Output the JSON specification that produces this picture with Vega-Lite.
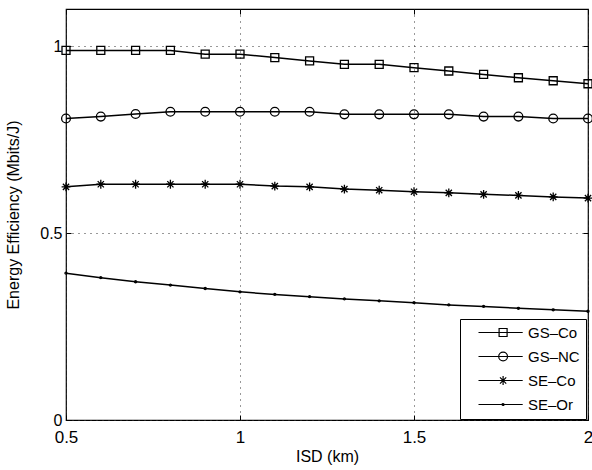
{
  "$schema": "https://vega.github.io/schema/vega-lite/v6.json",
  "width": 522,
  "height": 411,
  "autosize": "none",
  "padding": {"left": 66, "top": 9, "right": 4, "bottom": 50},
  "background": "white",
  "config": {
    "font": "Liberation Sans",
    "view": {"stroke": "black", "strokeWidth": 1.2},
    "axis": {
      "domainColor": "black",
      "tickColor": "black",
      "labelColor": "black",
      "titleColor": "black",
      "labelFontSize": 17,
      "titleFontSize": 16,
      "titleFontWeight": "normal",
      "labelFont": "Liberation Sans",
      "titleFont": "Liberation Sans",
      "gridColor": "#333",
      "gridDash": [1, 5],
      "gridWidth": 1,
      "gridOpacity": 1,
      "tickSize": -5,
      "tickWidth": 1
    },
    "legend": {"labelFont": "Liberation Sans"}
  },
  "data": {
    "values": [
      {"isd": 0.5, "series": "GS–Co", "ee": 0.989},
      {"isd": 0.6, "series": "GS–Co", "ee": 0.989},
      {"isd": 0.7, "series": "GS–Co", "ee": 0.989},
      {"isd": 0.8, "series": "GS–Co", "ee": 0.989},
      {"isd": 0.9, "series": "GS–Co", "ee": 0.979},
      {"isd": 1.0, "series": "GS–Co", "ee": 0.979},
      {"isd": 1.1, "series": "GS–Co", "ee": 0.970},
      {"isd": 1.2, "series": "GS–Co", "ee": 0.961},
      {"isd": 1.3, "series": "GS–Co", "ee": 0.952},
      {"isd": 1.4, "series": "GS–Co", "ee": 0.952},
      {"isd": 1.5, "series": "GS–Co", "ee": 0.943},
      {"isd": 1.6, "series": "GS–Co", "ee": 0.934},
      {"isd": 1.7, "series": "GS–Co", "ee": 0.925},
      {"isd": 1.8, "series": "GS–Co", "ee": 0.916},
      {"isd": 1.9, "series": "GS–Co", "ee": 0.908},
      {"isd": 2.0, "series": "GS–Co", "ee": 0.900},
      {"isd": 0.5, "series": "GS–NC", "ee": 0.807},
      {"isd": 0.6, "series": "GS–NC", "ee": 0.812},
      {"isd": 0.7, "series": "GS–NC", "ee": 0.819},
      {"isd": 0.8, "series": "GS–NC", "ee": 0.825},
      {"isd": 0.9, "series": "GS–NC", "ee": 0.825},
      {"isd": 1.0, "series": "GS–NC", "ee": 0.825},
      {"isd": 1.1, "series": "GS–NC", "ee": 0.825},
      {"isd": 1.2, "series": "GS–NC", "ee": 0.825},
      {"isd": 1.3, "series": "GS–NC", "ee": 0.818},
      {"isd": 1.4, "series": "GS–NC", "ee": 0.818},
      {"isd": 1.5, "series": "GS–NC", "ee": 0.818},
      {"isd": 1.6, "series": "GS–NC", "ee": 0.818},
      {"isd": 1.7, "series": "GS–NC", "ee": 0.812},
      {"isd": 1.8, "series": "GS–NC", "ee": 0.812},
      {"isd": 1.9, "series": "GS–NC", "ee": 0.807},
      {"isd": 2.0, "series": "GS–NC", "ee": 0.807},
      {"isd": 0.5, "series": "SE–Co", "ee": 0.624},
      {"isd": 0.6, "series": "SE–Co", "ee": 0.631},
      {"isd": 0.7, "series": "SE–Co", "ee": 0.631},
      {"isd": 0.8, "series": "SE–Co", "ee": 0.631},
      {"isd": 0.9, "series": "SE–Co", "ee": 0.631},
      {"isd": 1.0, "series": "SE–Co", "ee": 0.631},
      {"isd": 1.1, "series": "SE–Co", "ee": 0.626},
      {"isd": 1.2, "series": "SE–Co", "ee": 0.624},
      {"isd": 1.3, "series": "SE–Co", "ee": 0.618},
      {"isd": 1.4, "series": "SE–Co", "ee": 0.615},
      {"isd": 1.5, "series": "SE–Co", "ee": 0.611},
      {"isd": 1.6, "series": "SE–Co", "ee": 0.608},
      {"isd": 1.7, "series": "SE–Co", "ee": 0.604},
      {"isd": 1.8, "series": "SE–Co", "ee": 0.601},
      {"isd": 1.9, "series": "SE–Co", "ee": 0.597},
      {"isd": 2.0, "series": "SE–Co", "ee": 0.594},
      {"isd": 0.5, "series": "SE–Or", "ee": 0.393},
      {"isd": 0.6, "series": "SE–Or", "ee": 0.381},
      {"isd": 0.7, "series": "SE–Or", "ee": 0.370},
      {"isd": 0.8, "series": "SE–Or", "ee": 0.361},
      {"isd": 0.9, "series": "SE–Or", "ee": 0.352},
      {"isd": 1.0, "series": "SE–Or", "ee": 0.343},
      {"isd": 1.1, "series": "SE–Or", "ee": 0.336},
      {"isd": 1.2, "series": "SE–Or", "ee": 0.330},
      {"isd": 1.3, "series": "SE–Or", "ee": 0.324},
      {"isd": 1.4, "series": "SE–Or", "ee": 0.319},
      {"isd": 1.5, "series": "SE–Or", "ee": 0.314},
      {"isd": 1.6, "series": "SE–Or", "ee": 0.308},
      {"isd": 1.7, "series": "SE–Or", "ee": 0.304},
      {"isd": 1.8, "series": "SE–Or", "ee": 0.299},
      {"isd": 1.9, "series": "SE–Or", "ee": 0.295},
      {"isd": 2.0, "series": "SE–Or", "ee": 0.291}
    ]
  },
  "resolve": {
    "axis": {"x": "independent", "y": "independent"},
    "scale": {"shape": "independent"},
    "legend": {"shape": "independent"}
  },
  "layer": [
    {
      "mark": {"type": "line", "color": "black", "strokeWidth": 1.5},
      "encoding": {
        "x": {
          "field": "isd", "type": "quantitative",
          "scale": {"domain": [0.5, 2], "nice": false, "zero": false},
          "axis": {"title": "ISD (km)", "values": [0.5, 1, 1.5, 2], "format": "~g", "grid": true, "domain": false, "labelPadding": 14, "titlePadding": 3, "labelFlush": false}
        },
        "y": {
          "field": "ee", "type": "quantitative",
          "scale": {"domain": [0, 1.1], "nice": false, "zero": true},
          "axis": {"title": "Energy Efficiency (Mbits/J)", "values": [0, 0.5, 1], "format": "~g", "grid": true, "domain": false, "labelPadding": 9, "labelFontSize": 16, "titlePadding": 18, "labelFlush": false}
        },
        "detail": {"field": "series"}
      }
    },
    {
      "mark": {"type": "point", "filled": false, "color": "black", "size": 64, "strokeWidth": 1.3, "opacity": 1},
      "encoding": {
        "x": {
          "field": "isd", "type": "quantitative",
          "axis": {"orient": "top", "title": null, "labels": false, "grid": false, "domain": false, "values": [0.5, 1, 1.5, 2]}
        },
        "y": {
          "field": "ee", "type": "quantitative",
          "axis": {"orient": "right", "title": null, "labels": false, "grid": false, "domain": false, "values": [0, 0.5, 1]}
        },
        "shape": {
          "field": "series", "type": "nominal",
          "scale": {
            "domain": ["GS–Co", "GS–NC", "SE–Co", "SE–Or"],
            "range": [
              "M-1,-1H1V1H-1Z",
              "M1.1,0A1.1,1.1,0,1,1,-1.1,0A1.1,1.1,0,1,1,1.1,0Z",
              "M-1.1,0H1.1M0,-1.1V1.1M-0.78,-0.78L0.78,0.78M-0.78,0.78L0.78,-0.78",
              "M0.25,0A0.25,0.25,0,1,1,-0.25,0A0.25,0.25,0,1,1,0.25,0Z"
            ]
          },
          "legend": null
        }
      }
    },
    {
      "transform": [{"filter": "false"}],
      "mark": {"type": "point", "filled": false, "color": "black", "size": 64, "strokeWidth": 1.2, "opacity": 1},
      "encoding": {
        "shape": {
          "field": "series", "type": "nominal",
          "scale": {
            "domain": ["GS–Co", "GS–NC", "SE–Co", "SE–Or"],
            "range": [
              "M1.25,0H12.3M6.4,-1H8.4V1H6.4Z",
              "M8.5,0A1.1,1.1,0,1,1,6.3,0A1.1,1.1,0,1,1,8.5,0Z M1.25,0H12.3",
              "M1.25,0H12.3M7.4,-1.1V1.1M6.62,-0.78L8.18,0.78M6.62,0.78L8.18,-0.78",
              "M1.25,0H12.3M7.65,0A0.25,0.25,0,1,1,7.15,0A0.25,0.25,0,1,1,7.65,0Z"
            ]
          },
          "legend": {
            "title": null,
            "orient": "none",
            "legendX": 394,
            "legendY": 310,
            "direction": "vertical",
            "strokeColor": "black",
            "fillColor": "white",
            "padding": 6,
            "labelFontSize": 15,
            "labelColor": "black",
            "labelOffset": 47,
            "rowPadding": 8,
            "symbolSize": 64,
            "symbolStrokeWidth": 1.2,
            "symbolStrokeColor": "black"
          }
        }
      }
    }
  ]
}
